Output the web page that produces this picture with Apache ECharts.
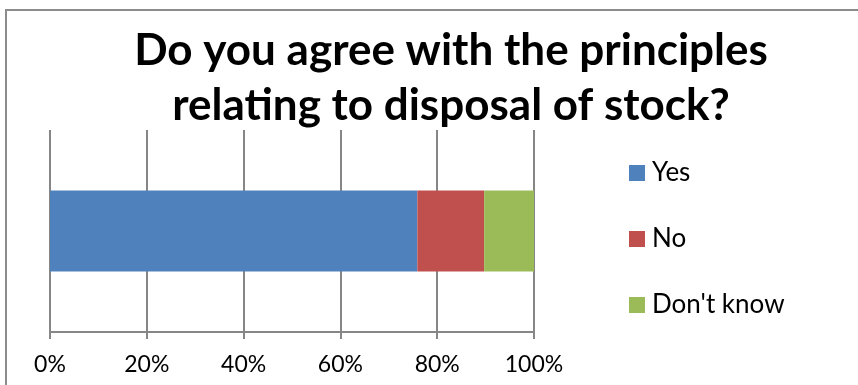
<!DOCTYPE html>
<html>
<head>
<meta charset="utf-8">
<script src="https://cdn.jsdelivr.net/npm/echarts@6/dist/echarts.min.js"></script>
<style>
  html, body { margin: 0; padding: 0; background: #fff; }
  #chart { width: 858px; height: 385px; }
</style>
</head>
<body>
<div id="chart"></div>
<script>
// Survey answers, share of respondents in percent
const categories = [''];
const seriesNames = ['Yes', 'No', "Don't know"];
const yesValues = [75.9];
const noValues = [13.8];
const dontKnowValues = [10.3];
const tickLabels = ['0%', '20%', '40%', '60%', '80%', '100%'];

const colors = ['#4F81BD', '#C0504D', '#9BBB59'];
const font = 'Lato, "Open Sans", sans-serif';

const chart = echarts.init(document.getElementById('chart'), null, { renderer: 'canvas' });

const seriesData = [yesValues, noValues, dontKnowValues];

chart.setOption({
  animation: false,
  backgroundColor: '#fff',
  color: colors,
  title: {
    text: 'Do you agree with the principles\nrelating to disposal of stock?',
    left: 446,
    top: 18,
    textAlign: 'center',
    textStyle: {
      fontFamily: font,
      fontWeight: 'bold',
      fontSize: 44,
      lineHeight: 55,
      color: '#000'
    }
  },
  legend: {
    orient: 'vertical',
    left: 624,
    top: 155,
    itemWidth: 16,
    itemHeight: 16,
    itemGap: 40,
    icon: 'rect',
    textStyle: { fontFamily: font, fontSize: 26, color: '#000', padding: [0, 0, 0, 2] },
    data: seriesNames
  },
  grid: { left: 50, right: 324, top: 130, bottom: 53, containLabel: false },
  xAxis: {
    type: 'value',
    min: 0,
    max: 100,
    interval: 20,
    axisLine: { show: true, lineStyle: { color: '#868686', width: 2 } },
    axisTick: { show: true, length: 7, lineStyle: { color: '#868686', width: 2 } },
    splitLine: { show: true, lineStyle: { color: '#868686', width: 2 } },
    axisLabel: {
      margin: 21,
      fontFamily: font,
      fontSize: 23,
      color: '#000',
      formatter: (v) => tickLabels[Math.round(v / 20)]
    }
  },
  yAxis: {
    type: 'category',
    data: categories,
    axisLine: { show: false },
    axisTick: { show: false },
    axisLabel: { show: false }
  },
  series: seriesNames.map((name, i) => ({
    name,
    type: 'bar',
    stack: 'total',
    barWidth: 81,
    data: seriesData[i],
    itemStyle: { color: colors[i] }
  })),
  graphic: [{
    type: 'polyline',
    shape: { points: [[6, 400], [6, 10], [870, 10]] },
    style: { stroke: '#8c8c8c', lineWidth: 2, fill: null },
    silent: true
  }]
});
</script>
</body>
</html>
